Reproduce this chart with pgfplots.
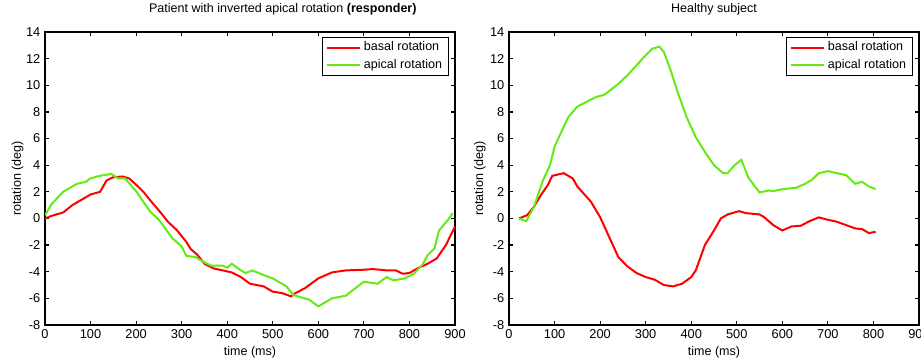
\documentclass[border=0pt]{standalone}
\usepackage{fontspec}
\setmainfont{Liberation Sans}
\usepackage{pgfplots}
\pgfplotsset{compat=1.18}
\definecolor{mred}{RGB}{255,0,0}
\definecolor{mgreen}{RGB}{100,235,20}
\pgfplotsset{
  mstyle/.style={
    scale only axis, width=307.5pt, height=219.75pt,
    xmin=0, xmax=900, ymin=-8, ymax=14,
    xtick={0,100,...,900}, ytick={-8,-6,...,14},
    tick align=inside, tick pos=both, major tick length=3pt,
    axis line style={line width=1.1pt},
    every tick/.style={black, line width=0.9pt},
    ticklabel style={font=\fontsize{9.6}{10}\selectfont},
    /pgf/number format/assume math mode=true,
    xlabel={time (ms)}, ylabel={rotation (deg)},
    label style={font=\fontsize{9.4}{10}\selectfont},
    xlabel style={at={([yshift=-23.25pt]axis description cs:0.5,0)}, anchor=base},
    title style={font=\fontsize{9.4}{10}\selectfont, anchor=base},
    legend cell align=left,
    legend image code/.code={\draw[#1] (0pt,0pt) -- (24.75pt,0pt);},
    legend style={draw=black, line width=0.5pt, inner xsep=3pt, inner ysep=1.25pt,
      row sep=0pt, anchor=north east,
      nodes={font=\fontsize{9.4}{10}\selectfont, text height=7pt, text depth=2pt, inner sep=2pt},
      at={([xshift=-4.5pt,yshift=-3.75pt]axis description cs:1,1)}},
    every axis plot/.append style={line width=1.5pt},
  }
}
\begin{document}
\begin{tikzpicture}
\useasboundingbox (0,0) rectangle (690.75pt,270pt);
\begin{axis}[mstyle, at={(33.75pt,26.25pt)}, anchor=south west,
  title={Patient with inverted apical rotation \textbf{(responder)}},
  title style={at={([yshift=8.25pt]axis description cs:0.58,1)}},
  ylabel style={at={([xshift=-18pt]axis description cs:0,0.5)}, anchor=base}]
\addplot[mred] coordinates {
(0,0) (15,0.2) (40,0.45) (60,1.0) (80,1.4) (100,1.8) (121,2.0) (135,2.85) (150,3.1) (171,3.15) (185,3.0) (201,2.5) (216,2.0) (230,1.4) (250,0.6) (270,-0.25) (290,-0.9) (310,-1.75) (320,-2.3) (335,-2.75) (350,-3.4) (370,-3.75) (390,-3.9) (410,-4.05) (430,-4.4) (450,-4.9) (480,-5.1) (500,-5.5) (520,-5.6) (540,-5.85) (550,-5.6) (570,-5.25) (600,-4.5) (630,-4.05) (660,-3.9) (700,-3.85) (720,-3.8) (750,-3.9) (770,-3.9) (785,-4.15) (800,-4.1) (820,-3.7) (840,-3.4) (860,-3.0) (880,-2.0) (900,-0.6)};
\addlegendentry{basal rotation}
\addplot[mgreen] coordinates {
(0,0.25) (15,1.1) (40,2.0) (70,2.6) (90,2.75) (99,3.0) (120,3.2) (146,3.34) (160,3.0) (176,3.0) (201,2.0) (230,0.55) (250,-0.1) (280,-1.5) (300,-2.1) (310,-2.8) (330,-2.9) (350,-3.3) (365,-3.55) (390,-3.55) (400,-3.7) (410,-3.4) (430,-3.9) (440,-4.1) (455,-3.9) (480,-4.25) (500,-4.5) (530,-5.1) (545,-5.75) (580,-6.1) (600,-6.6) (630,-6.0) (660,-5.8) (700,-4.75) (730,-4.9) (750,-4.4) (765,-4.65) (790,-4.5) (810,-4.15) (830,-3.4) (840,-2.75) (855,-2.25) (865,-0.9) (885,-0.1) (895,0.4)};
\addlegendentry{apical rotation}
\end{axis}
\begin{axis}[mstyle, at={(381.75pt,26.25pt)}, anchor=south west,
  title={Healthy subject},
  title style={at={([yshift=8.25pt]axis description cs:0.5,1)}},
  ylabel style={at={([xshift=-19.5pt]axis description cs:0,0.5)}, anchor=base}]
\addplot[mred] coordinates {
(22,0) (40,0.25) (55,0.9) (70,1.75) (85,2.5) (95,3.2) (120,3.4) (140,3.0) (150,2.4) (180,1.25) (200,0.1) (220,-1.4) (240,-2.9) (260,-3.6) (280,-4.1) (300,-4.4) (320,-4.6) (340,-5.0) (360,-5.1) (380,-4.9) (400,-4.4) (410,-3.9) (430,-2.0) (450,-0.9) (465,0.0) (480,0.3) (505,0.55) (520,0.4) (550,0.3) (560,0.1) (580,-0.5) (600,-0.9) (620,-0.6) (640,-0.55) (660,-0.2) (680,0.08) (700,-0.1) (720,-0.25) (740,-0.5) (760,-0.75) (775,-0.8) (790,-1.1) (805,-1.0)};
\addlegendentry{basal rotation}
\addplot[mgreen] coordinates {
(22,0) (38,-0.2) (55,0.9) (75,2.9) (90,4.0) (100,5.4) (115,6.5) (130,7.6) (150,8.4) (170,8.75) (190,9.1) (210,9.3) (240,10.1) (260,10.75) (280,11.5) (300,12.25) (315,12.75) (330,12.9) (340,12.5) (355,11.1) (370,9.5) (390,7.6) (410,6.1) (430,5.0) (450,4.0) (470,3.4) (480,3.4) (495,4.0) (510,4.4) (525,3.1) (540,2.4) (550,1.95) (570,2.1) (580,2.05) (600,2.2) (630,2.3) (650,2.6) (665,2.9) (680,3.4) (700,3.55) (720,3.4) (740,3.25) (760,2.6) (775,2.75) (790,2.4) (805,2.2)};
\addlegendentry{apical rotation}
\end{axis}
\end{tikzpicture}
\end{document}
